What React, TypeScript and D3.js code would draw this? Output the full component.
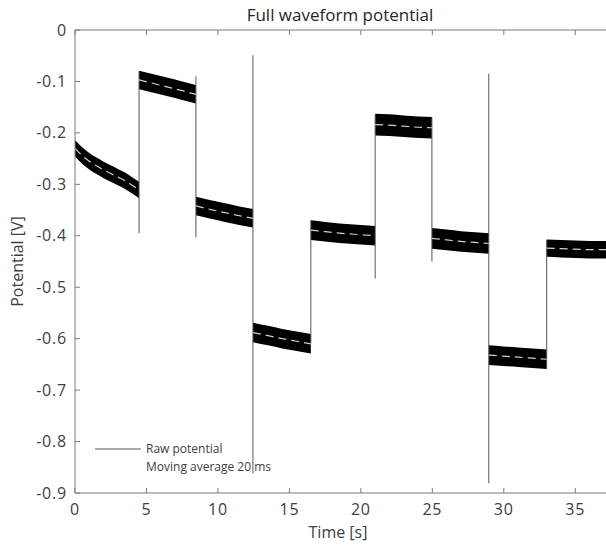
import * as d3 from "d3";

const W = 606;
const H = 546;
const plot = { left: 75, top: 30, right: 606, bottom: 493 };

// step segments of the raw potential (time points, mean value, half band width)
const segmentTimes: number[][] = [
  [0, 0.5, 1, 1.5, 2, 2.5, 3, 3.5, 4, 4.48],
  [4.48, 5.5, 6.5, 7.5, 8.46],
  [8.46, 9.5, 10.5, 11.5, 12.45],
  [12.45, 13.5, 14.5, 15.5, 16.5],
  [16.5, 17.5, 18.5, 19.5, 21.0],
  [21.0, 22.0, 23.0, 24.0, 24.97],
  [24.97, 26.0, 27.0, 28.0, 28.95],
  [28.95, 30.0, 31.0, 32.0, 33.0],
  [33.0, 34.0, 35.0, 36.0, 37.2],
];
const segmentMeans: number[][] = [
  [-0.23, -0.244, -0.255, -0.264, -0.272, -0.279, -0.286, -0.293, -0.302, -0.311],
  [-0.097, -0.104, -0.111, -0.118, -0.125],
  [-0.342, -0.349, -0.355, -0.361, -0.366],
  [-0.588, -0.594, -0.6, -0.605, -0.61],
  [-0.389, -0.392, -0.395, -0.397, -0.4],
  [-0.184, -0.185, -0.187, -0.189, -0.19],
  [-0.405, -0.408, -0.411, -0.413, -0.415],
  [-0.632, -0.634, -0.636, -0.638, -0.64],
  [-0.424, -0.425, -0.426, -0.427, -0.427],
];
const segmentSpread = [0.016, 0.018, 0.018, 0.019, 0.019, 0.021, 0.02, 0.019, 0.017];

// switching transients of the raw potential
const spikeTimes = [4.48, 8.46, 12.45, 16.5, 21.0, 24.97, 28.95, 33.0];
const spikeHigh = [-0.08, -0.09, -0.049, -0.37, -0.165, -0.17, -0.085, -0.408];
const spikeLow = [-0.395, -0.403, -0.862, -0.61, -0.483, -0.45, -0.881, -0.658];

const xTicks = [0, 5, 10, 15, 20, 25, 30, 35];
const yTicks = [0, -0.1, -0.2, -0.3, -0.4, -0.5, -0.6, -0.7, -0.8, -0.9];

const legendLabels = ["Raw potential", "Moving average 20 ms"];

const axisColor = "#7a7a7a";
const textColor = "#404040";
const font = "'Open Sans', sans-serif";

export default function App() {
  const x = d3.scaleLinear().domain([0, 37.15]).range([plot.left, plot.right]);
  const y = d3.scaleLinear().domain([-0.9, 0]).range([plot.bottom, plot.top]);

  const band = d3
    .area<[number, number, number]>()
    .x((d) => x(d[0]))
    .y0((d) => y(d[1] - d[2]))
    .y1((d) => y(d[1] + d[2]))
    .curve(d3.curveMonotoneX);

  const avg = d3
    .line<[number, number]>()
    .x((d) => x(d[0]))
    .y((d) => y(d[1]))
    .curve(d3.curveMonotoneX);

  const fmt = (v: number) => (v === 0 ? "0" : v.toFixed(1));

  return (
    <svg
      width={W}
      height={H}
      style={{ position: "absolute", left: 0, top: 0, background: "#fff" }}
      fontFamily={font}
    >
      <rect width={W} height={H} fill="#fff" />
      <text x={340} y={21} textAnchor="middle" fontSize={17} fill="#262626">
        Full waveform potential
      </text>

      {/* raw potential */}
      {segmentTimes.map((ts, i) => (
        <path
          key={"b" + i}
          d={band(ts.map((t, j) => [t, segmentMeans[i][j], segmentSpread[i]])) || ""}
          fill="#000"
        />
      ))}
      {spikeTimes.map((t, i) => (
        <line
          key={"s" + i}
          x1={x(t)}
          x2={x(t)}
          y1={y(spikeHigh[i])}
          y2={y(spikeLow[i])}
          stroke="#555"
          strokeWidth={1}
        />
      ))}

      {/* moving average */}
      {segmentTimes.map((ts, i) => (
        <path
          key={"m" + i}
          d={avg(ts.map((t, j) => [t, segmentMeans[i][j]])) || ""}
          fill="none"
          stroke="#cfcfcf"
          strokeWidth={1.2}
          strokeDasharray="8 5"
        />
      ))}

      {/* axes */}
      <line x1={plot.left} x2={plot.right} y1={plot.top} y2={plot.top} stroke={axisColor} />
      <line x1={plot.left} x2={plot.right} y1={plot.bottom} y2={plot.bottom} stroke={axisColor} />
      <line x1={plot.left} x2={plot.left} y1={plot.top} y2={plot.bottom} stroke={axisColor} />
      {xTicks.map((t) => (
        <g key={"xt" + t}>
          <line x1={x(t)} x2={x(t)} y1={plot.bottom} y2={plot.bottom - 5} stroke={axisColor} />
          <line x1={x(t)} x2={x(t)} y1={plot.top} y2={plot.top + 5} stroke={axisColor} />
          <text
            x={x(t)}
            y={plot.bottom + 22}
            textAnchor="middle"
            fontSize={16}
            letterSpacing={0.8}
            fill={textColor}
          >
            {t}
          </text>
        </g>
      ))}
      {yTicks.map((v) => (
        <g key={"yt" + v}>
          <line x1={plot.left} x2={plot.left + 5} y1={y(v)} y2={y(v)} stroke={axisColor} />
          <text
            x={plot.left - 8}
            y={y(v)}
            dy="0.35em"
            textAnchor="end"
            fontSize={16}
            letterSpacing={0.8}
            fill={textColor}
          >
            {fmt(v)}
          </text>
        </g>
      ))}
      <text x={338} y={538} textAnchor="middle" fontSize={16} fill={textColor}>
        Time [s]
      </text>
      <text
        transform={`translate(23,${(plot.top + plot.bottom) / 2}) rotate(-90)`}
        textAnchor="middle"
        fontSize={16}
        fill={textColor}
      >
        Potential [V]
      </text>

      {/* legend */}
      <line x1={95} x2={141} y1={449} y2={449} stroke="#555" />
      {legendLabels.map((l, i) => (
        <text key={l} x={146} y={449 + i * 18} dy="0.35em" fontSize={12} fill={textColor}>
          {l}
        </text>
      ))}
    </svg>
  );
}
